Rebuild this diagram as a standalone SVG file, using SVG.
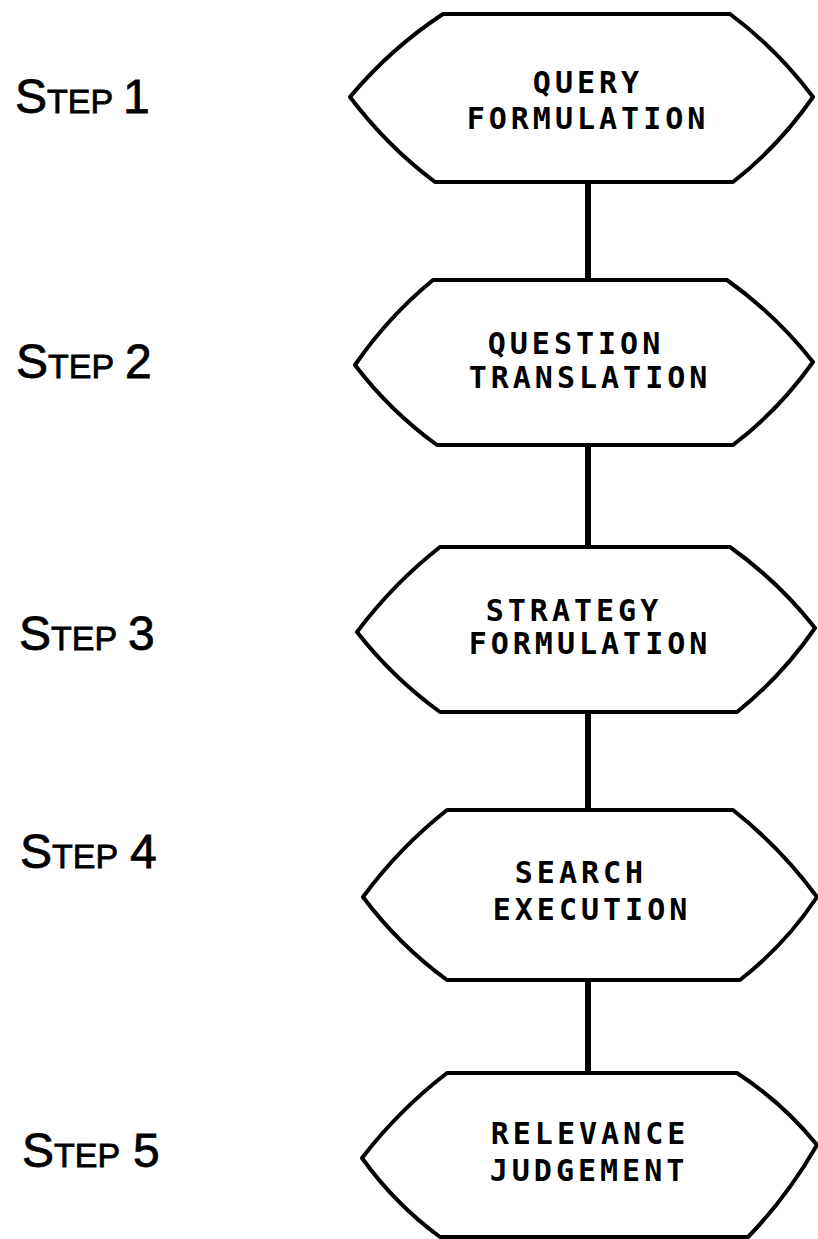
<svg xmlns="http://www.w3.org/2000/svg" width="818" height="1239" viewBox="0 0 818 1239">
<style>
.shape{fill:#fff;stroke:#000;stroke-width:4;stroke-linejoin:round}
.lbl{font-family:"DejaVu Sans Mono","Liberation Mono",monospace;font-weight:bold;font-size:30px;letter-spacing:4px;fill:#000;text-anchor:middle}
.step{font-family:"Liberation Sans",Arial,sans-serif;fill:#000;stroke:#000;stroke-width:0.8}
.big{font-size:48px}
.small{font-size:34px}
.conn{stroke:#000;stroke-width:6;fill:none}
</style>
<rect width="818" height="1239" fill="#fff"/>
<g id="connectors">
<line class="conn" x1="588" y1="182" x2="588" y2="280"/>
<line class="conn" x1="588" y1="445" x2="588" y2="547"/>
<line class="conn" x1="588" y1="712" x2="588" y2="810"/>
<line class="conn" x1="588" y1="980" x2="588" y2="1073"/>
</g>
<g id="step-labels">
<text class="step" x="15" y="113"><tspan class="big">S</tspan><tspan class="small">TEP</tspan><tspan class="big" x="123">1</tspan></text>
<text class="step" x="16" y="378"><tspan class="big">S</tspan><tspan class="small">TEP</tspan><tspan class="big" x="125">2</tspan></text>
<text class="step" x="19" y="650"><tspan class="big">S</tspan><tspan class="small">TEP</tspan><tspan class="big" x="128">3</tspan></text>
<text class="step" x="20" y="868"><tspan class="big">S</tspan><tspan class="small">TEP</tspan><tspan class="big" x="130">4</tspan></text>
<text class="step" x="22" y="1167"><tspan class="big">S</tspan><tspan class="small">TEP</tspan><tspan class="big" x="133">5</tspan></text>
</g>
<g id="node1">
<path class="shape" d="M443,14 L730,14 Q777,49 813,97 Q779,146 733,182 L435,182 Q387,146 350,97 Q390,49 443,14 Z"/>
<text class="lbl" x="588" y="93">QUERY</text>
<text class="lbl" x="588" y="129">FORMULATION</text>
</g>
<g id="node2">
<path class="shape" d="M433,280 L727,280 Q776,315 813,362 Q779,410 733,445 L437,445 Q390,411 355,365 Q388,317 433,280 Z"/>
<text class="lbl" x="576" y="354">QUESTION</text>
<text class="lbl" x="590" y="388">TRANSLATION</text>
</g>
<g id="node3">
<path class="shape" d="M440,547 L730,547 Q779,582 815,628 Q782,676 737,712 L440,712 Q393,678 357,632 Q393,584 440,547 Z"/>
<text class="lbl" x="574" y="621">STRATEGY</text>
<text class="lbl" x="590" y="654">FORMULATION</text>
</g>
<g id="node4">
<path class="shape" d="M447,810 L733,810 Q781,848 817,897 Q785,945 740,980 L447,980 Q399,945 363,897 Q399,848 447,810 Z"/>
<text class="lbl" x="581" y="883">SEARCH</text>
<text class="lbl" x="592" y="920">EXECUTION</text>
</g>
<g id="node5">
<path class="shape" d="M447,1073 L737,1073 Q783,1103 817,1145 Q787,1197 748,1237 L440,1237 Q395,1204 362,1158 Q399,1110 447,1073 Z"/>
<text class="lbl" x="590" y="1144">RELEVANCE</text>
<text class="lbl" x="589" y="1181">JUDGEMENT</text>
</g>
</svg>
